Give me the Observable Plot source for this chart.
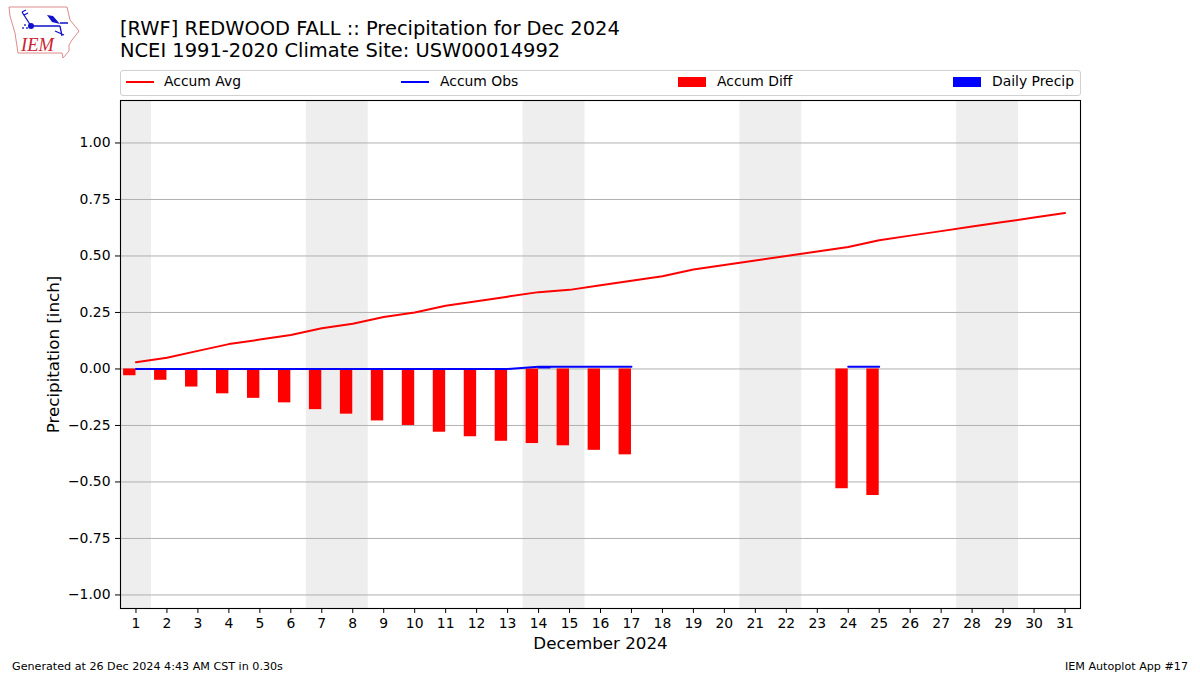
<!DOCTYPE html>
<html><head><meta charset="utf-8">
<script src="https://cdn.jsdelivr.net/npm/d3@7"></script>
<script src="https://cdn.jsdelivr.net/npm/@observablehq/plot@0.6"></script>
<style>
html,body{margin:0;padding:0;background:#fff}
body{width:1200px;height:675px;position:relative;overflow:hidden;font-family:"DejaVu Sans",sans-serif;color:#000}
.t{position:absolute;white-space:nowrap}
#chart{position:absolute;left:0;top:0}
#legend{position:absolute;left:120px;top:70px;width:959px;height:24px;border:1px solid #d0d0d0;border-radius:3px}
.h{position:absolute}
.l{position:absolute;font-size:13.9px;line-height:16px;top:2px;white-space:nowrap}
</style></head><body>
<div id="chart"></div>
<svg class="t" style="left:0;top:0" width="90" height="65" viewBox="0 0 90 65">
<path d="M9 7 L67 7 L70 20 L79 31 L72 40 L69 45 L69 51 L63 58 L62 53 L18 53 L15 33 L10 16 Z" fill="none" stroke="#e08a8a" stroke-width="1"/>
<path d="M31 26 H60 M31 26 L22 12 M22 12 L26 10 M24 15 L28 13 M60 26 L62 36 M55 31 L64 35 M60 23 H68" fill="none" stroke="#1111cc" stroke-width="1.3"/>
<path d="M47 15 L53 16 L60 24 L52 22 Z" fill="#1111cc"/>
<circle cx="31" cy="26" r="3" fill="#1111cc"/>
<circle cx="25" cy="25" r="1" fill="#3333bb"/><circle cx="23" cy="28" r="1" fill="#3333bb"/><circle cx="27" cy="28" r="1" fill="#3333bb"/>
<text x="21" y="51" font-family="Liberation Serif" font-style="italic" font-size="18.5" fill="#cc2233">IEM</text>
</svg>
<div class="t" id="title" style="left:120px;top:18px;font-size:19.45px;line-height:21.5px">[RWF] REDWOOD FALL :: Precipitation for Dec 2024<br>NCEI 1991-2020 Climate Site: USW00014992</div>
<div id="legend">
<div class="h" style="left:5px;top:10px;width:28px;height:2px;background:#f00"></div><div class="l" style="left:43px">Accum Avg</div>
<div class="h" style="left:280px;top:10px;width:28px;height:2px;background:#00f"></div><div class="l" style="left:319px">Accum Obs</div>
<div class="h" style="left:557px;top:6px;width:28px;height:10px;background:#f00"></div><div class="l" style="left:596px">Accum Diff</div>
<div class="h" style="left:832px;top:6px;width:28px;height:10px;background:#00f"></div><div class="l" style="left:871px">Daily Precip</div>
</div>
<div class="t" style="left:12px;top:660px;font-size:11.15px;line-height:13px">Generated at 26 Dec 2024 4:43 AM CST in 0.30s</div>
<div class="t" style="right:12px;top:660px;font-size:11.15px;line-height:13px">IEM Autoplot App #17</div>
<script>
const days = d3.range(1, 32);
const accumAvg = [0.03,0.05,0.08,0.11,0.13,0.15,0.18,0.20,0.23,0.25,0.28,0.30,0.32,0.34,0.35,0.37,0.39,0.41,0.44,0.46,0.48,0.50,0.52,0.54,0.57,0.59,0.61,0.63,0.65,0.67,0.69];
const accumObs = [0,0,0,0,0,0,0,0,0,0,0,0,0,0.01,0.01,0.01,0.01,null,null,null,null,null,null,0.01,0.01,null,null,null,null,null,null];
const accumDiff = [-0.03,-0.05,-0.08,-0.11,-0.13,-0.15,-0.18,-0.20,-0.23,-0.25,-0.28,-0.30,-0.32,-0.33,-0.34,-0.36,-0.38,null,null,null,null,null,null,-0.53,-0.56,null,null,null,null,null,null];
const dailyPrecip = [0,0,0,0,0,0,0,0,0,0,0,0,0,0.01,0,0,0,null,null,null,null,null,null,0,0,null,null,null,null,null,null];
const weekends = [[0.5,1.5],[6.5,8.5],[13.5,15.5],[20.5,22.5],[27.5,29.5]];
const yTicks = [-1,-0.75,-0.5,-0.25,0,0.25,0.5,0.75,1];
const barWidth = 0.4;

const plot = Plot.plot({
  width: 1200, height: 675,
  marginLeft: 120, marginRight: 120, marginTop: 100, marginBottom: 67,
  style: {fontFamily: '"DejaVu Sans",sans-serif', fontSize: "13.9px", color: "#000", background: "#fff"},
  x: {type: "linear", domain: [0.5, 31.5]},
  y: {type: "linear", domain: [-1.06, 1.188]},
  marks: [
    Plot.rect(weekends, {x1: d => d[0], x2: d => d[1], y1: -1.06, y2: 1.188, fill: "#eeeeee"}),
    Plot.gridY(yTicks, {stroke: "#b0b0b0", strokeOpacity: 1, strokeWidth: 1}),
    Plot.rectY(days.filter((d, i) => accumDiff[i] != null), {x1: d => d - barWidth, x2: d => d, y1: 0, y2: d => accumDiff[d - 1], fill: "#ff0000", inset: 0}),
    Plot.rectY(days.filter((d, i) => dailyPrecip[i] > 0), {x1: d => d, x2: d => d + barWidth, y1: 0, y2: d => dailyPrecip[d - 1], fill: "#0000ff", inset: 0}),
    Plot.line(days, {x: d => d, y: d => accumAvg[d - 1], stroke: "#ff0000", strokeWidth: 2, curve: "linear"}),
    Plot.line(days, {x: d => d, y: d => accumObs[d - 1] ?? NaN, stroke: "#0000ff", strokeWidth: 2, curve: "linear"}),
    Plot.axisX({ticks: days, tickFormat: d => d, tickSize: 5, tickPadding: 5, tickRotate: 0, label: null, fontSize: 13.9}),
    Plot.axisY(yTicks, {tickFormat: ".2f", tickSize: 5, tickPadding: 5, label: null, fontSize: 13.9}),
    Plot.frame({stroke: "#000", strokeWidth: 1.1}),
    Plot.text(["December 2024"], {frameAnchor: "bottom", dy: 40, text: d => d, fontSize: 16.7, fill: "#000"}),
    Plot.text(["Precipitation [inch]"], {frameAnchor: "left", dx: -67, rotate: -90, textAnchor: "middle", text: d => d, fontSize: 16.7, fill: "#000"})
  ]
});
document.getElementById("chart").append(plot);
</script>
</body></html>
